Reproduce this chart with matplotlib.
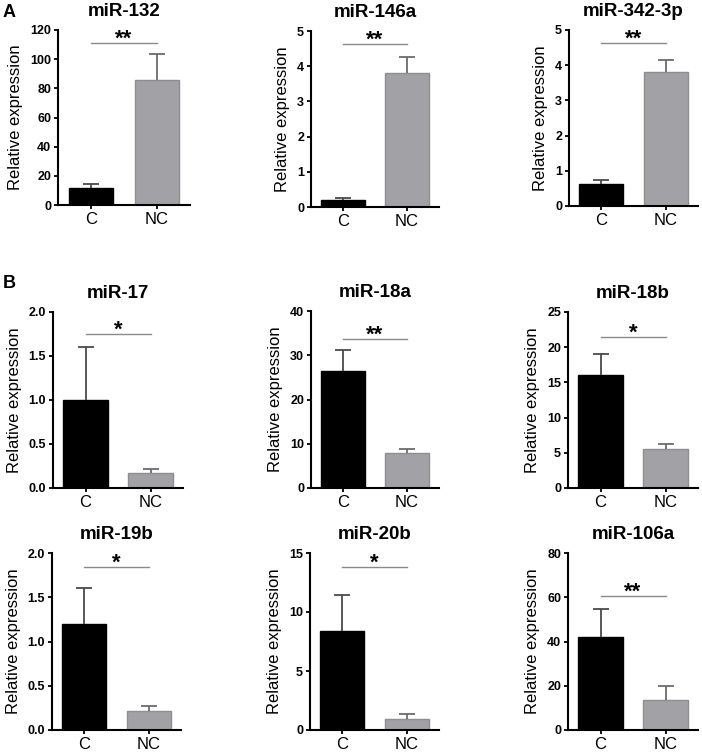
import matplotlib
matplotlib.use('Agg')
import matplotlib.pyplot as plt
from matplotlib.ticker import FormatStrFormatter

plt.rcParams['font.family'] = ['Liberation Sans', 'DejaVu Sans']

# data
titles = ['miR-132', 'miR-146a', 'miR-342-3p',
          'miR-17', 'miR-18a', 'miR-18b',
          'miR-19b', 'miR-20b', 'miR-106a']
groups = ['C', 'NC']
c_mean = [12, 0.2, 0.62, 1.0, 26.5, 16.1, 1.2, 8.4, 42]
c_err = [2.5, 0.05, 0.11, 0.6, 4.7, 2.9, 0.41, 3.0, 12.5]
nc_mean = [86, 3.8, 3.8, 0.17, 7.8, 5.6, 0.22, 0.93, 13.6]
nc_err = [17.5, 0.47, 0.35, 0.05, 1.0, 0.7, 0.05, 0.42, 6.3]
stars = ['**', '**', '**', '*', '**', '*', '*', '*', '**']
sig_y = [111, 4.63, 4.63, 1.75, 33.7, 21.4, 1.84, 13.8, 60.6]
y_max = [120, 5, 5, 2.0, 40, 25, 2.0, 15, 80]
y_step = [20, 1, 1, 0.5, 10, 5, 0.5, 5, 20]
y_fmt = ['%d', '%d', '%d', '%.1f', '%d', '%d', '%.1f', '%d', '%d']

W, H = 702, 752
# axes boxes in pixels: left, top, right, bottom
boxes = [(58, 30, 190, 205), (311, 31, 439, 207), (569, 30, 698, 206),
         (53, 312, 183, 488), (311, 311, 439, 488), (568, 312, 698, 488),
         (52, 553, 181, 730), (310, 553, 439, 730), (568, 553, 698, 730)]

fig = plt.figure(figsize=(W / 100, H / 100), dpi=100)


def upper_err(ax, xpos, mean, err, col):
    # only the upper half of the error bar, capped at the top
    eb = ax.errorbar([xpos], [mean], yerr=[[0], [err]], fmt='none',
                     ecolor=col, elinewidth=1.3, capsize=6, capthick=1.3, zorder=3)
    caps = eb[1]
    if len(caps) > 1:
        caps[0].set_visible(False)


for i in range(9):
    l, t, r, b = boxes[i]
    ax = fig.add_axes([l / W, 1 - b / H, (r - l) / W, (b - t) / H])
    x = [0, 1]
    ax.bar(x, [c_mean[i], nc_mean[i]], width=0.68,
           color=['black', '#a2a2a6'], edgecolor=['black', '#8e8e90'],
           linewidth=1, zorder=2)
    upper_err(ax, 0, c_mean[i], c_err[i], '#4a4a4a')
    upper_err(ax, 1, nc_mean[i], nc_err[i], '#6c6c6c')

    ax.plot([0, 1], [sig_y[i], sig_y[i]], color='#8a8a8a', lw=1)
    # asterisks sit a few px above the line
    ax.annotate(stars[i], (0.5, sig_y[i]), xytext=(0, -1), textcoords='offset points',
                ha='center', va='baseline', fontsize=16, fontweight='bold')

    ax.set_xlim(-0.5, 1.5)
    ax.set_ylim(0, y_max[i])
    ticks = []
    v = 0
    while v <= y_max[i] + 1e-9:
        ticks.append(v)
        v += y_step[i]
    ax.set_yticks(ticks)
    ax.yaxis.set_major_formatter(FormatStrFormatter(y_fmt[i]))
    ax.set_xticks(x)
    ax.set_xticklabels(groups, fontsize=12)
    for lab in ax.get_yticklabels():
        lab.set_fontweight('bold')
        lab.set_fontsize(9)

    ax.spines['top'].set_visible(False)
    ax.spines['right'].set_visible(False)
    ax.spines['left'].set_linewidth(1.5)
    ax.spines['bottom'].set_linewidth(1.5)
    ax.tick_params(axis='both', direction='out', length=3, width=1.3, pad=2)
    ax.set_ylabel('Relative expression', fontsize=12, labelpad=5)
    ax.set_title(titles[i], fontsize=13.5, fontweight='bold', pad=10)

fig.text(3 / W, 1 - 4 / H, 'A', fontsize=13, fontweight='bold', va='top')
fig.text(3 / W, 1 - 275 / H, 'B', fontsize=13, fontweight='bold', va='top')

plt.savefig('out.png', dpi=100)
